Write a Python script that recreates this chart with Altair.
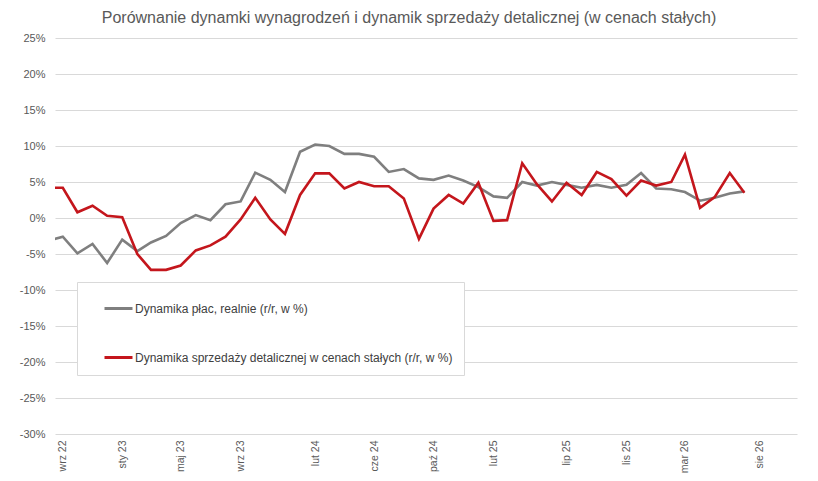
import altair as alt
import pandas as pd

# monthly data, Aug 2022 .. Jul 2026
months = pd.date_range("2022-08-01", "2026-07-01", freq="MS").strftime("%Y-%m-%d").tolist()

wages_real = [
    -3.2, -2.6, -4.9, -3.6, -6.25,
    -3.0, -4.6, -3.4, -2.5, -0.7, 0.4, -0.3, 1.9, 2.3, 6.3, 5.3, 3.6,
    9.2, 10.2, 10.0, 8.9, 8.9, 8.5, 6.4, 6.8, 5.5, 5.3, 5.9, 5.2,
    4.3, 3.0, 2.8, 5.0, 4.5, 5.0, 4.6, 4.2, 4.6, 4.2, 4.6, 6.25,
    4.1, 4.0, 3.6, 2.4, 2.8, 3.4, 3.7,
]

retail_sales = [
    4.2, 4.2, 0.8, 1.7, 0.3,
    0.1, -5.0, -7.2, -7.2, -6.6, -4.5, -3.8, -2.6, -0.2, 2.8, -0.2, -2.2,
    3.2, 6.2, 6.2, 4.1, 5.0, 4.4, 4.4, 2.7, -2.9, 1.3, 3.2, 2.0,
    4.9, -0.4, -0.3, 7.6, 4.7, 2.3, 4.9, 3.2, 6.4, 5.4, 3.1, 5.2,
    4.5, 5.0, 8.8, 1.4, 2.9, 6.25, 3.5,
]

series_names = [
    "Dynamika płac, realnie (r/r, w %)",
    "Dynamika sprzedaży detalicznej w cenach stałych (r/r, w %)",
]
series_colors = ["#7f7f7f", "#c4161c"]

# x tick positions (first day of month)
tick_dates = [
    (2022, 9), (2023, 1), (2023, 5), (2023, 9), (2024, 2), (2024, 6),
    (2024, 10), (2025, 2), (2025, 7), (2025, 11), (2026, 3), (2026, 8),
]
month_names = ["sty", "lut", "mar", "kwi", "maj", "cze",
               "lip", "sie", "wrz", "paź", "lis", "gru"]

y_ticks = list(range(-30, 30, 5))

df = pd.DataFrame({
    "date": months * 2,
    "value": wages_real + retail_sales,
    "series": [series_names[0]] * len(months) + [series_names[1]] * len(months),
})

FONT = "Liberation Sans"

x_enc = alt.X(
    "date:T",
    scale=alt.Scale(
        type="utc",
        domain=[alt.DateTime(year=2022, month=8, date=16, utc=True),
                alt.DateTime(year=2026, month=10, date=17, utc=True)],
    ),
    axis=alt.Axis(
        title=None,
        values=[alt.DateTime(year=y, month=m, date=1, utc=True) for y, m in tick_dates],
        labelExpr=str(month_names).replace(" ", "")
        + "[utcmonth(datum.value)] + ' ' + utcFormat(datum.value, '%y')",
        labelAngle=-90,
        labelPadding=6,
        grid=False,
        domain=False,
        ticks=False,
        labelFont=FONT,
        labelFontSize=10.5,
        labelColor="#595959",
    ),
)

y_enc = alt.Y(
    "value:Q",
    scale=alt.Scale(domain=[-30, 25], nice=False, zero=False),
    axis=alt.Axis(
        title=None,
        values=y_ticks,
        labelExpr="datum.value + '%'",
        grid=True,
        gridColor="#d9d9d9",
        gridWidth=1,
        domain=False,
        ticks=False,
        labelPadding=10,
        labelFont=FONT,
        labelFontSize=11,
        labelColor="#595959",
    ),
)

color_enc = alt.Color(
    "series:N",
    scale=alt.Scale(domain=series_names, range=series_colors),
    legend=alt.Legend(
        orient="none",
        legendX=22,
        legendY=244,
        title=None,
        direction="vertical",
        symbolType="stroke",
        symbolSize=784,
        symbolStrokeWidth=3,
        symbolOffset=15,
        labelOffset=1,
        labelLimit=500,
        labelFont=FONT,
        labelFontSize=12,
        labelColor="#404040",
        padding=11,
        rowPadding=27,
        fillColor="white",
        strokeColor="#d9d9d9",
    ),
)

layers = []
for name in series_names:
    layers.append(
        alt.Chart(df)
        .transform_filter(alt.datum.series == name)
        .mark_line(strokeWidth=2.6, clip=True)
        .encode(x=x_enc, y=y_enc, color=color_enc)
    )

chart = (
    alt.layer(*layers)
    .properties(
        width=742,
        height=396,
        autosize=alt.AutoSizeParams(type="none"),
        padding={"left": 47, "top": 30, "right": 13, "bottom": 39},
        background="white",
        title=alt.TitleParams(
            "Porównanie dynamki wynagrodzeń i dynamik sprzedaży detalicznej (w cenach stałych)",
            font=FONT,
            fontSize=16,
            fontWeight="normal",
            color="#595959",
            anchor="middle",
            dx=-17,
            offset=6,
        ),
    )
    .configure_view(stroke=None)
)

chart.save("out.html", embed_options={"renderer": "svg", "actions": False})
